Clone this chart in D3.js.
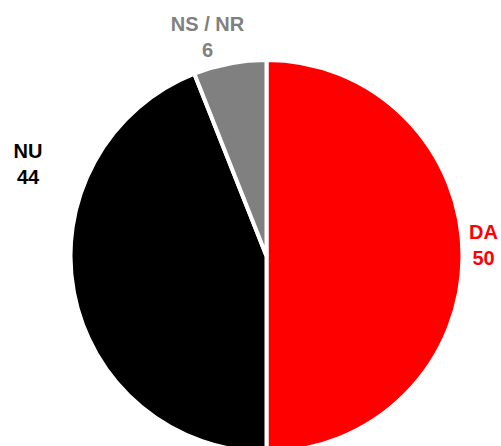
<!DOCTYPE html>
<html>

<head>
    <meta charset="UTF-8">
    <style>
        body { margin: 0; background: #fff; }
        text { font-family: "Liberation Sans", Arial, sans-serif; font-weight: bold; font-size: 20px; }
    </style>
</head>

<body>
    <script src="https://d3js.org/d3.v7.min.js"></script>
    <div id="chart"></div>
    <script>
        // data
        const categories = ["DA", "NU", "NS / NR"];
        const values = [50, 44, 6];
        const colors = ["#ff0000", "#000000", "#808080"];

        // label anchors (centre x, first baseline y) picked to match the layout
        const labelPos = [[483.5, 239], [28, 158], [207.5, 31]];

        const width = 501, height = 446;
        const cx = 266.5, cy = 256, radius = 196;

        const svg = d3.select("#chart")
            .append("svg")
            .attr("width", width)
            .attr("height", height);

        const g = svg.append("g")
            .attr("transform", `translate(${cx}, ${cy})`);

        const pie = d3.pie().sort(null).value(d => d);
        const arc = d3.arc().innerRadius(0).outerRadius(radius);

        // slices
        g.selectAll("path")
            .data(pie(values))
            .enter()
            .append("path")
            .attr("d", arc)
            .attr("fill", (d, i) => colors[i])
            .attr("stroke", "#fff")
            .attr("stroke-width", 4)
            .attr("stroke-linejoin", "miter");

        // labels
        const labels = svg.selectAll("text.lbl")
            .data(categories)
            .enter()
            .append("text")
            .attr("class", "lbl")
            .attr("text-anchor", "middle")
            .attr("fill", (d, i) => colors[i]);

        labels.append("tspan")
            .attr("x", (d, i) => labelPos[i][0])
            .attr("y", (d, i) => labelPos[i][1])
            .text(d => d);

        labels.append("tspan")
            .attr("x", (d, i) => labelPos[i][0])
            .attr("y", (d, i) => labelPos[i][1] + 26)
            .text((d, i) => values[i]);
    </script>
</body>

</html>
